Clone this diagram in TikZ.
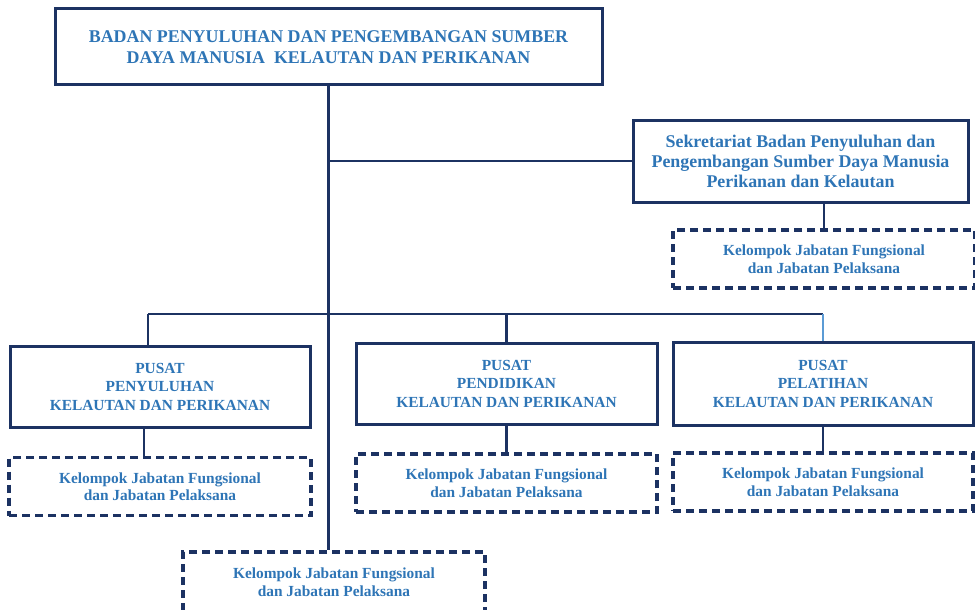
\documentclass[tikz,border=0pt]{standalone}
\usepackage{fontspec}
\setmainfont{Liberation Serif}
\usepackage{xcolor}
\definecolor{kkpNavy}{RGB}{28, 50, 98}
\definecolor{kkpBlue}{RGB}{46, 117, 182}
\definecolor{kkpLightBlue}{RGB}{91, 155, 213}

\begin{document}
\begin{tikzpicture}[x=1pt, y=-1pt]
                    \tikzstyle{unit} = [draw=kkpNavy, line width=3pt, fill=white, text=kkpBlue, align=center, inner sep=0pt, font=\bfseries]
                    \tikzstyle{kjf} = [draw=kkpNavy, line width=3.3pt, dash pattern=on 8pt off 5pt, fill=white, text=kkpBlue, align=center, inner sep=0pt, minimum height=58pt, font=\fontsize{15.4}{17.5}\selectfont\bfseries]
                    \tikzstyle{link} = [draw=kkpNavy, line width=2.4pt]
                    \useasboundingbox (0,0) rectangle (975,610);
                    \coordinate (bus) at (0,314);
                    % boxes
                    \node[unit, minimum width=547pt, minimum height=76pt, font=\fontsize{17.9}{21}\selectfont\bfseries] (badan) at (328.5,47) {BADAN PENYULUHAN DAN PENGEMBANGAN SUMBER\\DAYA MANUSIA\ \ KELAUTAN DAN PERIKANAN};
                    \node[unit, minimum width=335pt, minimum height=82pt, font=\fontsize{17.9}{20}\selectfont\bfseries] (sekretariat) at (800.5,161) {Sekretariat Badan Penyuluhan dan\\Pengembangan Sumber Daya Manusia\\Perikanan dan Kelautan};
                    \node[kjf, minimum width=302pt] (kjfSek) at (824,259) {Kelompok Jabatan Fungsional\\dan Jabatan Pelaksana};
                    \node[unit, minimum width=300pt, minimum height=81pt, font=\fontsize{15.4}{18.5}\selectfont\bfseries] (penyuluhan) at (160,386.5) {PUSAT\\PENYULUHAN\\KELAUTAN DAN PERIKANAN};
                    \node[kjf, minimum width=302pt] (kjfPenyuluhan) at (160,486.5) {Kelompok Jabatan Fungsional\\dan Jabatan Pelaksana};
                    \node[unit, minimum width=301pt, minimum height=81pt, font=\fontsize{15.4}{18.5}\selectfont\bfseries] (pendidikan) at (506.5,383.5) {PUSAT\\PENDIDIKAN\\KELAUTAN DAN PERIKANAN};
                    \node[kjf, minimum width=301pt] (kjfPendidikan) at (506.5,483) {Kelompok Jabatan Fungsional\\dan Jabatan Pelaksana};
                    \node[unit, minimum width=300pt, minimum height=83pt, font=\fontsize{15.4}{18.5}\selectfont\bfseries] (pelatihan) at (823,383.5) {PUSAT\\PELATIHAN\\KELAUTAN DAN PERIKANAN};
                    \node[kjf, minimum width=300pt] (kjfPelatihan) at (823,482) {Kelompok Jabatan Fungsional\\dan Jabatan Pelaksana};
                    \node[kjf, minimum width=302pt, minimum height=60pt] (kjfBadan) at (334,582) {Kelompok Jabatan Fungsional\\dan Jabatan Pelaksana};
                    % connectors
                    \draw[link] (badan.south) -- (badan.south |- kjfBadan.north);
                    \draw[link] (badan.south |- sekretariat.west) -- (sekretariat.west);
                    \draw[link] (kjfSek.north |- sekretariat.south) -- (kjfSek.north);
                    \draw[link] ([xshift=-12pt]penyuluhan.north |- bus) -- (pelatihan.north |- bus);
                    \draw[link] ([xshift=-12pt]penyuluhan.north |- bus) -- ([xshift=-12pt]penyuluhan.north);
                    \draw[link] (pendidikan.north |- bus) -- (pendidikan.north);
                    \draw[link, draw=kkpLightBlue] (pelatihan.north |- bus) -- (pelatihan.north);
                    \draw[link] ([xshift=-16pt]penyuluhan.south) -- ([xshift=-16pt]kjfPenyuluhan.north);
                    \draw[link] (pendidikan) -- (kjfPendidikan);
                    \draw[link] (pelatihan) -- (kjfPelatihan);
                \end{tikzpicture}
\end{document}
